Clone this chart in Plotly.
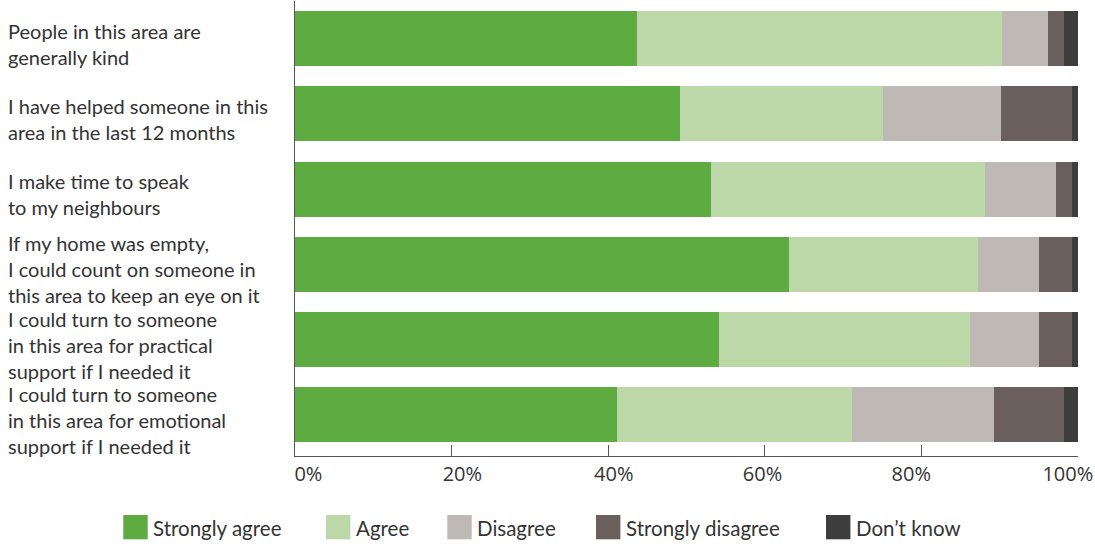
import plotly.graph_objects as go

# ---- data ----
categories = [
    "People in this area are<br>generally kind",
    "I have helped someone in this<br>area in the last 12 months",
    "I make time to speak<br>to my neighbours",
    "If my home was empty,<br>I could count on someone in<br>this area to keep an eye on it",
    "I could turn to someone<br>in this area for practical<br>support if I needed it",
    "I could turn to someone<br>in this area for emotional<br>support if I needed it",
]
series_names = ["Strongly agree", "Agree", "Disagree", "Strongly disagree", "Don\u2019t know"]
strongly_agree = [43.7, 49.2, 53.1, 63.1, 54.2, 41.1]
agree = [46.6, 25.9, 35.1, 24.1, 32.0, 30.0]
disagree = [5.9, 15.1, 9.0, 7.9, 8.9, 18.2]
strongly_disagree = [2.0, 9.0, 2.0, 4.1, 4.1, 8.9]
dont_know = [1.8, 0.8, 0.8, 0.8, 0.8, 1.8]
tick_values = [0, 20, 40, 60, 80, 100]
tick_labels = ["0%", "20%", "40%", "60%", "80%", "100%"]

series_values = [strongly_agree, agree, disagree, strongly_disagree, dont_know]
colors = ["#5dab41", "#bcd8a9", "#bfb9b6", "#6a5f5c", "#3d3d3d"]

# ---- layout constants (pixels) ----
W, H = 1095, 544
ML, MR, MT, MB = 295, 17, 1, 88
PW = W - ML - MR
PH = H - MT - MB
TEXT = "#333333"
LABEL_FONT = dict(family="Lato", size=20, color=TEXT)
LEGEND_FONT = dict(family="Lato", size=20.5, color=TEXT)
NBSP = "\u00a0"
# leading no-break spaces that nudge each tick label like the original
label_pad = [9, 8, 6, 3, 0, 0]


def px_x(px):
    return (px - ML) / PW


def px_y(py):
    return (H - MB - py) / PH


tick_text = [NBSP * n + t for t, n in zip(tick_labels, label_pad)]

fig = go.Figure()
for name, vals, col in zip(series_names, series_values, colors):
    fig.add_trace(go.Bar(
        y=categories, x=vals, name=name, orientation="h",
        marker=dict(color=col, line=dict(width=0)),
        showlegend=False, hovertemplate="%{x}%<extra>" + name + "</extra>",
    ))

# category labels, left aligned
annotations = []
for cat in categories:
    annotations.append(dict(
        x=px_x(5.5), xref="paper", xanchor="left", align="left",
        y=cat, yref="y", yanchor="middle", yshift=-5,
        text=cat, showarrow=False, font=LABEL_FONT,
    ))

# custom legend (large swatches)
legend_square_left = [123.3, 326, 447.3, 596, 826]
shapes = []
for name, col, left in zip(series_names, colors, legend_square_left):
    shapes.append(dict(
        type="rect", xref="paper", yref="paper",
        x0=px_x(left), x1=px_x(left + 24.4),
        y0=px_y(539.3), y1=px_y(515),
        fillcolor=col, line=dict(width=0),
    ))
    annotations.append(dict(
        x=px_x(left + 27.5), xref="paper", xanchor="left",
        y=px_y(527.5), yref="paper", yanchor="middle",
        text=name, showarrow=False, font=LEGEND_FONT,
    ))

fig.update_layout(
    width=W, height=H,
    margin=dict(l=ML, r=MR, t=MT, b=MB, pad=0, autoexpand=False),
    barmode="stack", bargap=0.269,
    plot_bgcolor="white", paper_bgcolor="white",
    showlegend=False,
    annotations=annotations, shapes=shapes,
    xaxis=dict(
        range=[0, 100.02], tickmode="array",
        tickvals=tick_values, ticktext=tick_text,
        ticklabelshift=-10,
        ticklabeloverflow="allow", automargin=False,
        showgrid=False, zeroline=False,
        showline=True, linecolor="#555555", linewidth=1.3,
        ticks="inside", ticklen=11, tickcolor="#555555", tickwidth=1.3,
        tickfont=dict(family="Open Sans", size=20, color=TEXT),
        fixedrange=True,
    ),
    yaxis=dict(
        categoryorder="array", categoryarray=categories,
        range=[5.545, -0.5], showticklabels=False, ticks="",
        showgrid=False, zeroline=False, automargin=False,
        showline=True, linecolor="#555555", linewidth=1.3,
        fixedrange=True,
    ),
)

fig.write_html("out.html", config={"displayModeBar": False})
